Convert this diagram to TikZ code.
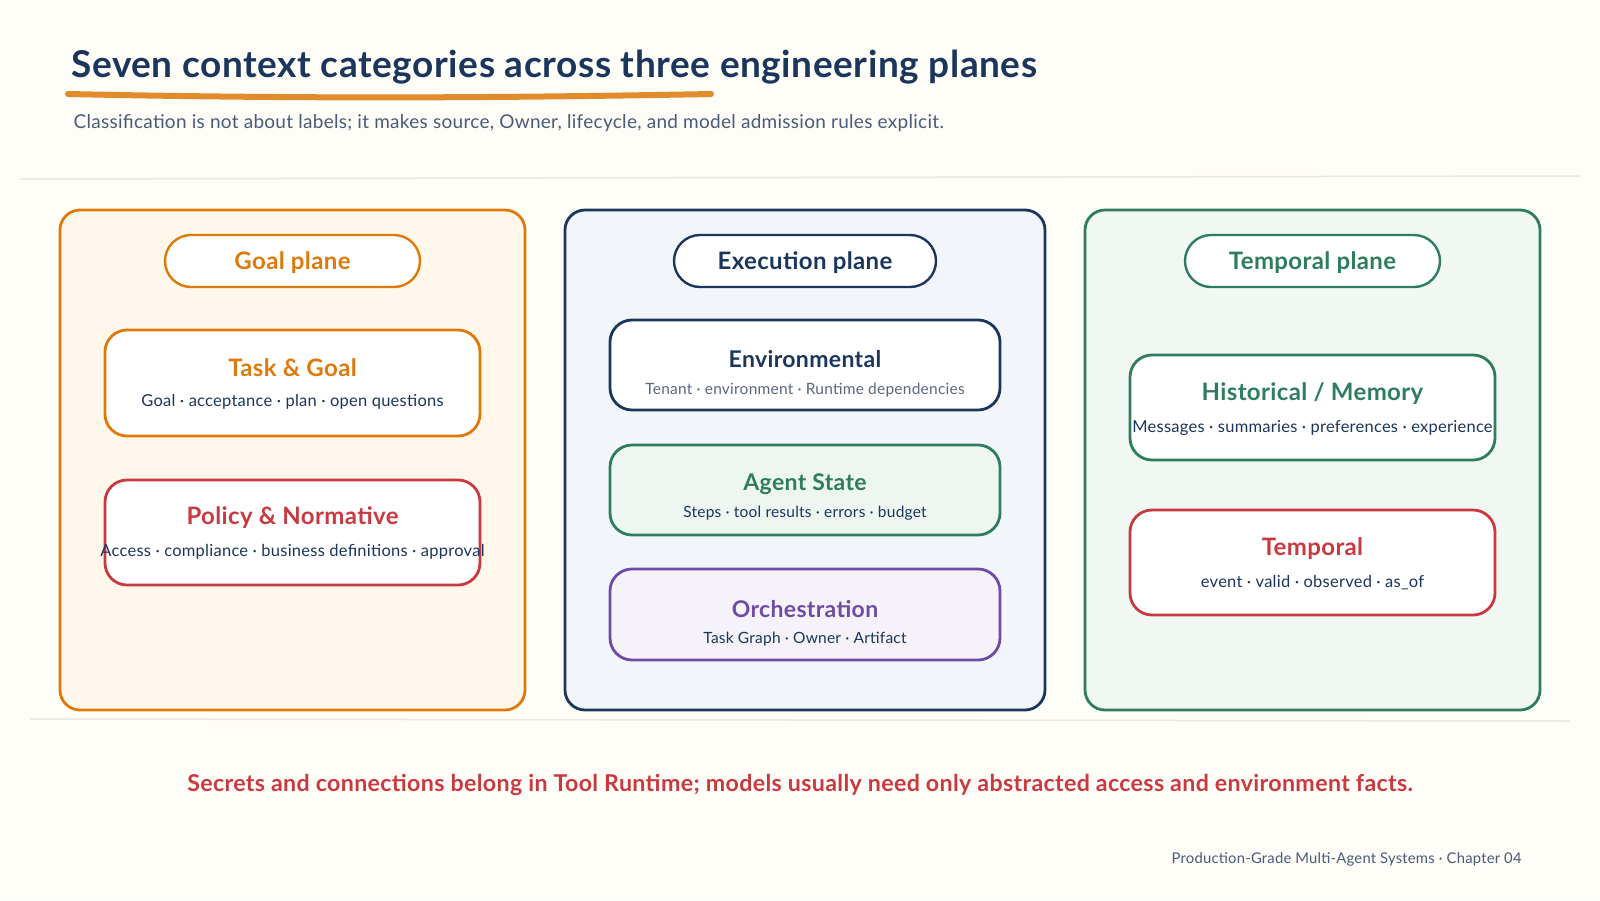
\documentclass[tikz,border=0pt]{standalone}
\usepackage{fontspec}
\setmainfont{Lato}[LetterSpace=1.5]
\usetikzlibrary{positioning}

\definecolor{paper}{HTML}{FFFDF8}
\definecolor{navy}{HTML}{1B365D}
\definecolor{slate}{HTML}{4A5A78}
\definecolor{envgrey}{HTML}{5B6680}
\definecolor{goalorange}{HTML}{DE7A0C}
\definecolor{underorange}{HTML}{E28B2C}
\definecolor{policyred}{HTML}{C93A40}
\definecolor{stategreen}{HTML}{2E7D5E}
\definecolor{orchpurple}{HTML}{6E4CA5}
\definecolor{goalfill}{HTML}{FFF7E9}
\definecolor{execfill}{HTML}{F2F6FB}
\definecolor{tempfill}{HTML}{F1F7F3}
\definecolor{statefill}{HTML}{EEF6F1}
\definecolor{orchfill}{HTML}{F5F2FA}
\definecolor{rulegrey}{HTML}{ECE7DC}

\tikzset{
  panel/.style={draw, line width=2.8pt, rounded corners=20pt, minimum height=500pt},
  pill/.style={draw, line width=2.4pt, fill=white, rounded corners=26pt, text depth=0pt,
    minimum width=255pt, minimum height=52pt, font=\bfseries\fontsize{24}{28}\selectfont},
  catbox/.style={draw, line width=2.8pt, fill=white, rounded corners=22pt},
  cattitle/.style={font=\bfseries\fontsize{24}{28}\selectfont},
  catsub/.style={text=navy, font=\fontsize{16.5}{20}\selectfont},
}

\begin{document}
\begin{tikzpicture}[x=1pt, y=-1pt]
  % Page and frame
  \useasboundingbox (0,0) rectangle (1600,900);
  \fill[paper] (0,0) rectangle (1600,900);
  % Heading
  \node[anchor=west, text=navy, font=\bfseries\fontsize{37}{43}\selectfont] (title) at (68,67)
    {Seven context categories across three engineering planes};
  \draw[underorange, line width=6pt, line cap=round] (68,94) .. controls (300,99) and (500,98) .. (711,94);
  \node[anchor=west, text=slate, font=\fontsize{19}{23}\selectfont] (subtitle) at (70,123)
    {Classification is not about labels; it makes source, Owner, lifecycle, and model admission rules explicit.};
  % Separator rules
  \draw[rulegrey, line width=1.5pt] (20,179) -- (1580,176);
  \draw[rulegrey, line width=1.5pt] (30,719) -- (1570,721);
  % Planes
  \node[panel, draw=goalorange, fill=goalfill, minimum width=465pt] (goalpanel) at (292.5,460) {};
  \node[panel, draw=navy, fill=execfill, minimum width=480pt] (execpanel) at (805,460) {};
  \node[panel, draw=stategreen, fill=tempfill, minimum width=455pt] (temppanel) at (1312.5,460) {};
  % Plane pills
  \node[pill, draw=goalorange, text=goalorange] (goalpill) at (292.5,261) {Goal plane};
  \node[pill, draw=navy, text=navy, minimum width=262pt] (execpill) at (805,261) {Execution plane};
  \node[pill, draw=stategreen, text=stategreen] (temppill) at (1312.5,261) {Temporal plane};
  % Goal plane categories
  \node[catbox, draw=goalorange, minimum width=375pt, minimum height=106pt] (task) at (292.5,383) {};
  \node[cattitle, text=goalorange] (tasktitle) at (292.5,368) {Task \& Goal};
  \node[catsub] (tasksub) at (292.5,402) {Goal · acceptance · plan · open questions};
  \node[catbox, draw=policyred, minimum width=375pt, minimum height=105pt] (policy) at (292.5,532.5) {};
  \node[cattitle, text=policyred] (policytitle) at (292.5,518) {Policy \& Normative};
  \node[catsub] (policysub) at (292.5,552) {Access · compliance · business definitions · approval};
  % Execution plane categories
  \node[catbox, draw=navy, minimum width=390pt, minimum height=90pt] (env) at (805,365) {};
  \node[cattitle, text=navy, font=\bfseries\fontsize{23}{27}\selectfont] (envtitle) at (805,359) {Environmental};
  \node[catsub, text=envgrey, font=\fontsize{15.5}{19}\selectfont] (envsub) at (805,390) {Tenant · environment · Runtime dependencies};
  \node[catbox, draw=stategreen, fill=statefill, minimum width=390pt, minimum height=90pt] (state) at (805,490) {};
  \node[cattitle, text=stategreen, font=\bfseries\fontsize{23}{27}\selectfont] (statetitle) at (805,484) {Agent State};
  \node[catsub, font=\fontsize{15.5}{19}\selectfont] (statesub) at (805,513) {Steps · tool results · errors · budget};
  \node[catbox, draw=orchpurple, fill=orchfill, minimum width=390pt, minimum height=91pt] (orch) at (805,614.5) {};
  \node[cattitle, text=orchpurple, font=\bfseries\fontsize{23}{27}\selectfont] (orchtitle) at (805,609) {Orchestration};
  \node[catsub, font=\fontsize{15.5}{19}\selectfont] (orchsub) at (805,639) {Task Graph · Owner · Artifact};
  % Temporal plane categories
  \node[catbox, draw=stategreen, minimum width=365pt, minimum height=105pt] (hist) at (1312.5,407.5) {};
  \node[cattitle, text=stategreen] (histtitle) at (1312.5,394) {Historical / Memory};
  \node[catsub] (histsub) at (1312.5,428) {Messages · summaries · preferences · experience};
  \node[catbox, draw=policyred, minimum width=365pt, minimum height=105pt] (temporal) at (1312.5,562.5) {};
  \node[cattitle, text=policyred] (temporaltitle) at (1312.5,549) {Temporal};
  \node[catsub] (temporalsub) at (1312.5,583) {event · valid · observed · as\_of};
  % Closing note and footer
  \node[text=policyred, font=\bfseries\fontsize{23.2}{28}\selectfont] (note) at (800,785)
    {Secrets and connections belong in Tool Runtime; models usually need only abstracted access and environment facts.};
  \node[anchor=east, text=slate, font=\fontsize{14.8}{18}\selectfont] (footer) at (1525,859)
    {Production-Grade Multi-Agent Systems · Chapter 04};
\end{tikzpicture}
\end{document}
